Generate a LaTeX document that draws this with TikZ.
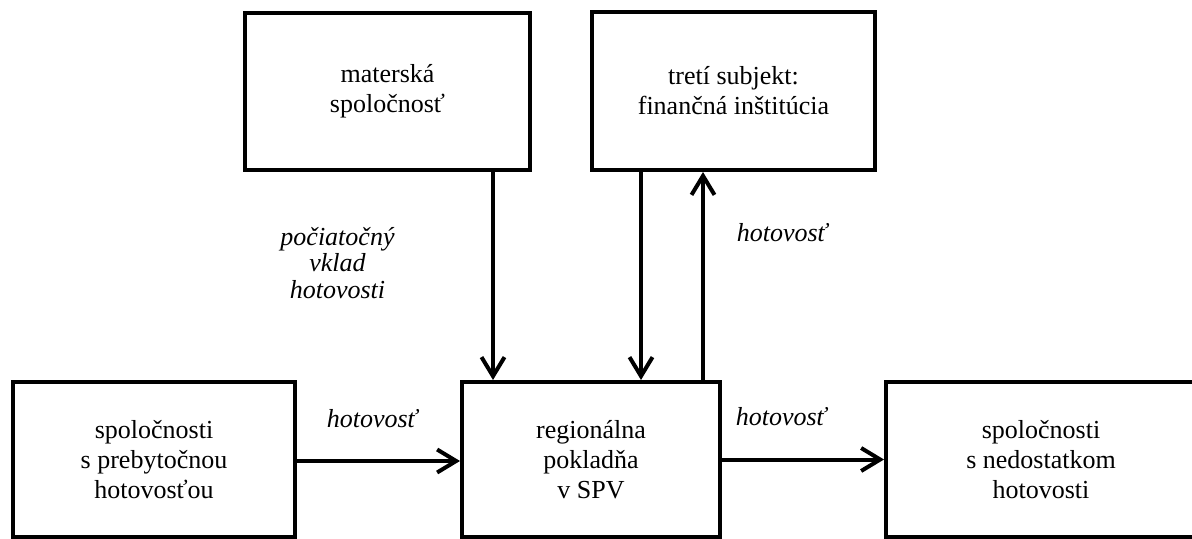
\documentclass[tikz,border=0pt]{standalone}
\usepackage{fontspec}
\setmainfont{Liberation Serif}
\usetikzlibrary{arrows.meta}
\begin{document}
\begin{tikzpicture}[x=0.5pt,y=-0.5pt,
  box/.style={draw, line width=2pt, rectangle, align=center,
    font=\fontsize{13}{15}\selectfont, inner sep=0pt},
  flow/.style={line width=2pt,
    -{Straight Barb[length=9.5pt,width=11.5pt,line width=2pt]}},
  lbl/.style={font=\fontsize{13}{13.3}\itshape\selectfont, align=center, inner sep=0pt}]
\useasboundingbox (0,0) rectangle (1192,539);

% boxes
\node[box, minimum width=142.5pt, minimum height=78.5pt] (mat) at (387.5,91.5)
  {materská\\spoločnosť};
\node[box, minimum width=141.5pt, minimum height=79pt] (tre) at (733.5,91)
  {tretí subjekt:\\finančná inštitúcia};
\node[box, minimum width=141pt, minimum height=77.5pt] (lft) at (154,459.5)
  {spoločnosti\\s prebytočnou\\hotovosťou};
\node[box, minimum width=129pt, minimum height=77.5pt] (reg) at (591,459.5)
  {regionálna\\pokladňa\\v SPV};
\node[box, minimum width=155pt, minimum height=77.5pt] (rgt) at (1041,459.5)
  {spoločnosti\\s nedostatkom\\hotovosti};

% vertical connector positions
\coordinate (c1) at (493,0);
\coordinate (c2) at (641,0);
\coordinate (c3) at (703,0);

\draw[flow] (mat.south -| c1) -- (reg.north -| c1);
\draw[flow] (tre.south -| c2) -- (reg.north -| c2);
\draw[flow] (reg.north -| c3) -- (tre.south -| c3);
\draw[flow] (lft.east |- 0,461) -- (reg.west |- 0,461);
\draw[flow] (reg.east) -- (rgt.west);

% labels
\node[lbl] (l1) at (337.5,263) {počiatočný\\vklad\\hotovosti};
\node[lbl, anchor=base] (l2) at (782,242) {hotovosť};
\node[lbl, anchor=base] (l3) at (372,427) {hotovosť};
\node[lbl, anchor=base] (l4) at (781,425) {hotovosť};
\end{tikzpicture}
\end{document}
